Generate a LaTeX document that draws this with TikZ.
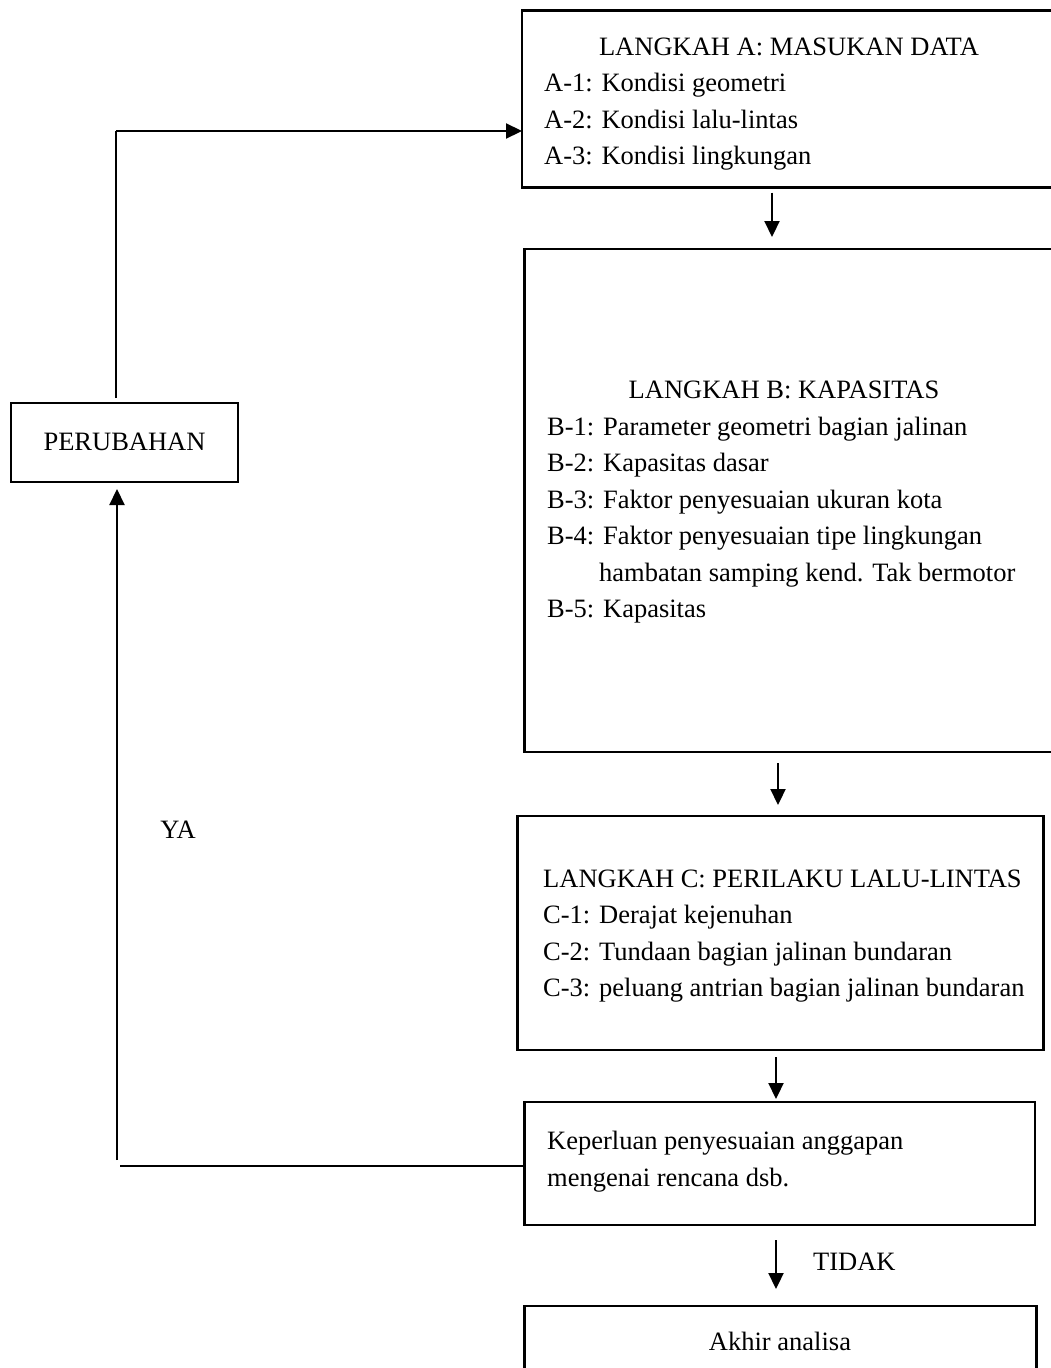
\documentclass[tikz,border=0pt]{standalone}
\usepackage{fontspec}
\setmainfont{Liberation Serif}
\usetikzlibrary{arrows.meta}
\begin{document}
\begin{tikzpicture}[x=1pt,y=-1pt,
  box/.style={draw, line width=2.6pt, rectangle, inner sep=0pt, outer sep=0pt},
  txt/.style={anchor=base west, inner sep=0pt, font=\fontsize{26.5}{36.5}\selectfont},
  ctxt/.style={anchor=base, inner sep=0pt, font=\fontsize{26.5}{36.5}\selectfont},
  arr/.style={line width=2.2pt, -{Triangle[length=16pt,width=15pt]}},
]
\useasboundingbox (0,0) rectangle (1051,1368);

% boxes
\node[box, minimum width=538pt, minimum height=177pt] (A) at (791,99) {};
\node[box, minimum width=535.5pt, minimum height=503pt] (B) at (792.25,500.5) {};
\node[box, minimum width=526pt, minimum height=234pt] (C) at (780.5,933) {};
\node[box, minimum width=510.5pt, minimum height=123pt] (D) at (779.75,1163.5) {};
\node[box, minimum width=512pt, minimum height=94pt] (E) at (780.5,1353) {};
\node[box, minimum width=227pt, minimum height=79pt] (P) at (124.5,442.5) {};

% texts of step A
\node[ctxt] (tA0) at (789,55) {LANGKAH A: MASUKAN DATA};
\node[txt] (tA1) at (544,91) {A-1: Kondisi geometri};
\node[txt] (tA2) at (544,128) {A-2: Kondisi lalu-lintas};
\node[txt] (tA3) at (544,164) {A-3: Kondisi lingkungan};

% texts of step B
\node[ctxt] (tB0) at (784,398) {LANGKAH B: KAPASITAS};
\node[txt] (tB1) at (547,435) {B-1: Parameter geometri bagian jalinan};
\node[txt] (tB2) at (547,471) {B-2: Kapasitas dasar};
\node[txt] (tB3) at (547,508) {B-3: Faktor penyesuaian ukuran kota};
\node[txt] (tB4) at (547,544) {B-4: Faktor penyesuaian tipe lingkungan};
\node[txt] (tB4b) at (599,581) {hambatan samping kend. Tak bermotor};
\node[txt] (tB5) at (547,617) {B-5: Kapasitas};

% texts of step C
\node[txt] (tC0) at (543,887) {LANGKAH C: PERILAKU LALU-LINTAS};
\node[txt] (tC1) at (543,923) {C-1: Derajat kejenuhan};
\node[txt] (tC2) at (543,960) {C-2: Tundaan bagian jalinan bundaran};
\node[txt] (tC3) at (543,996) {C-3: peluang antrian bagian jalinan bundaran};

% decision and end
\node[txt] (tD1) at (547,1149) {Keperluan penyesuaian anggapan};
\node[txt] (tD2) at (547,1186) {mengenai rencana dsb.};
\node[ctxt] (tE) at (780,1350) {Akhir analisa};
\node[txt] (tT) at (813,1270) {TIDAK};
\node[ctxt] (tP) at (124.5,450) {PERUBAHAN};
\node[ctxt] (tY) at (178,838) {YA};

% vertical flow
\coordinate (xab) at (772,0);
\coordinate (xbc) at (778,0);
\coordinate (xcd) at (776,0);
\draw[arr, shorten <=5pt, shorten >=12pt] (A.south -| xab) -- (B.north -| xab);
\draw[arr, shorten <=11pt, shorten >=11pt] (B.south -| xbc) -- (C.north -| xbc);
\draw[arr, shorten <=7pt, shorten >=3pt] (C.south -| xcd) -- (D.north -| xcd);
\draw[arr, shorten <=15pt, shorten >=17pt] (D.south -| xcd) -- (E.north -| xcd);

% feedback loop
\coordinate (up1) at (116,131);
\coordinate (lo1) at (117,1166);
\draw[line width=1.3pt, shorten <=5pt] (P.north -| up1) -- (up1);
\draw[arr] (up1) -- (A.west |- up1);
\draw[line width=1.5pt, shorten >=3pt] (D.west |- lo1) -- (lo1);
\draw[arr, shorten >=7pt] ([yshift=6pt]lo1) -- (P.south -| lo1);
\end{tikzpicture}
\end{document}
